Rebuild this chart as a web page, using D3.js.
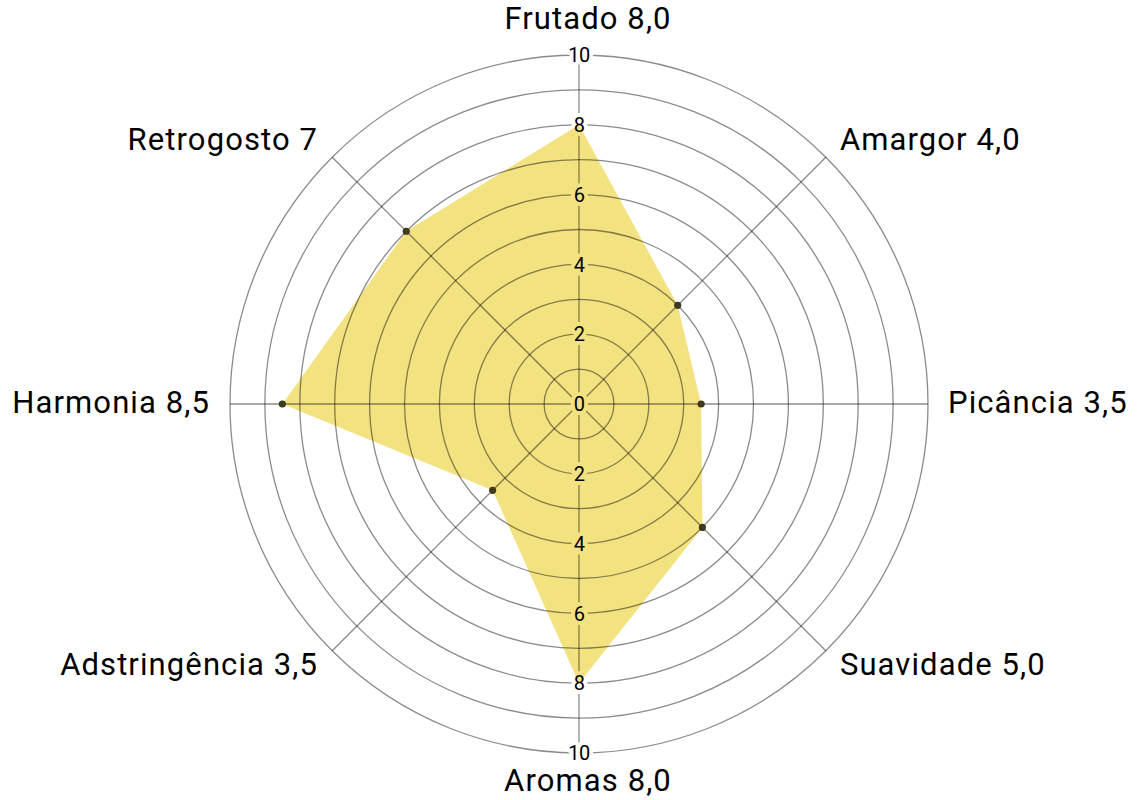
<!DOCTYPE html>
<html>
<head>
<meta charset="utf-8">
<script src="https://cdn.jsdelivr.net/npm/d3@7"></script>
<style>
  html, body { margin:0; padding:0; background:#fff; }
  svg { display:block; font-family:Roboto, "Noto Sans", sans-serif; }
</style>
</head>
<body>
<svg id="chart" width="1143" height="800"></svg>
<script>
const categories = ["Frutado", "Amargor", "Picância", "Suavidade", "Aromas", "Adstringência", "Harmonia", "Retrogosto"];
const values = [8, 4, 3.5, 5, 8, 3.5, 8.5, 7];
const valueLabels = ["8,0", "4,0", "3,5", "5,0", "8,0", "3,5", "8,5", "7"];
const rings = [1, 2, 3, 4, 5, 6, 7, 8, 9, 10];
const tickLabels = [0, 2, 4, 6, 8, 10];

const W = 1143, H = 800, cx = 579, cy = 404, R = 349;
const svg = d3.select("#chart");
const r = d3.scaleLinear().domain([0, 10]).range([0, R]);
const angle = d3.scaleLinear().domain([0, categories.length]).range([0, 2*Math.PI]);
const pt = (i, v) => [cx + r(v)*Math.sin(angle(i)), cy - r(v)*Math.cos(angle(i))];

// ticks on the vertical axis, above and below the centre
const tickPos = tickLabels.flatMap(t => t === 0 ? [{t, y:cy}] : [{t, y:cy - r(t)}, {t, y:cy + r(t)}]);
const TICK_FONT = "20px";

// mask: grid lines (and dots) break around the tick labels
const mask = svg.append("defs").append("mask").attr("id", "tick-gap").attr("maskUnits", "userSpaceOnUse")
  .attr("x", 0).attr("y", 0).attr("width", W).attr("height", H);
mask.append("rect").attr("width", W).attr("height", H).attr("fill", "#fff");
mask.selectAll("text").data(tickPos).join("text").attr("x", cx).attr("y", d => d.y).attr("dy", "0.36em")
  .attr("text-anchor", "middle").style("font-size", TICK_FONT).style("letter-spacing", "-0.6px")
  .attr("fill", "#000").attr("stroke", "#000").attr("stroke-width", 8).attr("stroke-linejoin", "round").text(d => d.t);

// area
const line = d3.line().x(d => d[0]).y(d => d[1]);
svg.append("path").attr("d", line(values.map((v, i) => pt(i, v))) + "Z").attr("fill", "#f3e280");

// grid
const grid = svg.append("g").attr("mask", "url(#tick-gap)").attr("fill", "none").attr("stroke", "#000")
  .attr("stroke-opacity", 0.46).attr("stroke-width", 1.3);
grid.selectAll("circle").data(rings).join("circle").attr("cx", cx).attr("cy", cy).attr("r", d => r(d));
grid.selectAll("line").data(categories).join("line").attr("x1", cx).attr("y1", cy)
  .attr("x2", (d, i) => pt(i, 10)[0]).attr("y2", (d, i) => pt(i, 10)[1]);

// points
svg.append("g").attr("mask", "url(#tick-gap)").selectAll("circle").data(values).join("circle")
  .attr("cx", (d, i) => pt(i, d)[0]).attr("cy", (d, i) => pt(i, d)[1]).attr("r", 3.6).attr("fill", "#3f3b1c");

// tick labels
svg.append("g").selectAll("text").data(tickPos).join("text").attr("x", cx).attr("y", d => d.y).attr("dy", "0.36em")
  .attr("text-anchor", "middle").style("font-size", TICK_FONT).style("letter-spacing", "-0.6px")
  .attr("fill", "#000").text(d => d.t);

// category labels
const LX = 369, LY = 371;
svg.append("g").selectAll("text").data(categories).join("text")
  .attr("x", (d, i) => {
    const s = Math.sin(angle(i));
    return cx + LX*s + (Math.abs(s) < 0.01 ? 9 : 0);
  })
  .attr("y", (d, i) => {
    const c = Math.cos(angle(i)), s = Math.sin(angle(i));
    const y = cy - LY*c;
    if (Math.abs(s) < 0.01) return y + (c > 0 ? -4 : 16);
    return y + 8.5;
  })
  .attr("text-anchor", (d, i) => {
    const s = Math.sin(angle(i));
    return Math.abs(s) < 0.01 ? "middle" : s > 0 ? "start" : "end";
  })
  .style("font-size", "31px").style("letter-spacing", "1.1px").attr("fill", "#000")
  .text((d, i) => `${d} ${valueLabels[i]}`);
</script>
</body>
</html>
